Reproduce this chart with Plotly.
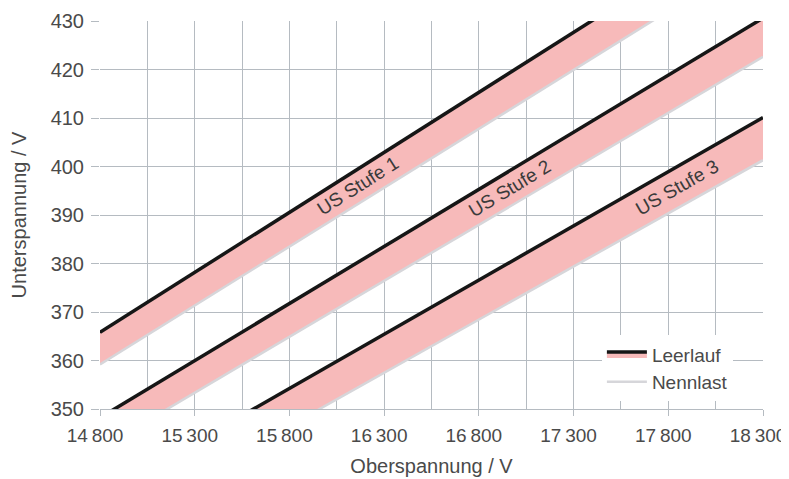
import plotly.graph_objects as go

# Data
ober_x = [14800, 18300]                      # Oberspannung / V (line endpoints)
stufen = ["US Stufe 1", "US Stufe 2", "US Stufe 3"]
leerlauf = {                                  # Unterspannung at 14800 / 18300 V
    "US Stufe 1": [365.8, 452.4],
    "US Stufe 2": [348.2, 430.6],
    "US Stufe 3": [331.9, 410.1],
}
nennlast = {
    "US Stufe 1": [359.2, 444.2],
    "US Stufe 2": [341.8, 422.6],
    "US Stufe 3": [324.6, 401.3],
}
# label positions (x value, y value) and angles
label_pos = {
    "US Stufe 1": (16164, 396.0, -32.4),
    "US Stufe 2": (16962, 395.4, -31.2),
    "US Stufe 3": (17845, 395.7, -29.9),
}
x_ticks = [14800, 15300, 15800, 16300, 16800, 17300, 17800, 18300]
x_ticktext = ["14\u2009800", "15\u2009300", "15\u2009800", "16\u2009300",
              "16\u2009800", "17\u2009300", "17\u2009800", "18\u2009300"]
y_ticks = [350, 360, 370, 380, 390, 400, 410, 420, 430]

FONT = "Liberation Sans, Arial, sans-serif"
TXT = "#4a4a4a"
PINK = "#f7baba"
GRID = "#b5bbc1"
FS = 20

fig = go.Figure()
for i, s in enumerate(stufen):
    fig.add_trace(go.Scatter(
        x=ober_x, y=nennlast[s], mode="lines",
        line=dict(color="#d6d6da", width=2.5),
        name="Nennlast", legendgroup="nenn", showlegend=(i == 0), legendrank=2,
        hoverinfo="skip"))
    fig.add_trace(go.Scatter(
        x=ober_x, y=leerlauf[s], mode="lines",
        line=dict(color="#161616", width=3.5),
        fill="tonexty", fillcolor=PINK,
        name="Leerlauf", legendgroup="leer", showlegend=(i == 0), legendrank=1,
        hoverinfo="skip"))

for s in stufen:
    lx, ly, ang = label_pos[s]
    fig.add_annotation(x=lx, y=ly, text=s, showarrow=False, textangle=ang,
                       font=dict(family=FONT, size=19, color="#3a3a3a"))

# page body has an 8px default margin, so the figure is slightly smaller
fig.update_layout(
    width=781, height=471,
    margin=dict(l=92, r=26, t=13, b=70),
    paper_bgcolor="white", plot_bgcolor="white",
    font=dict(family=FONT, size=FS, color=TXT),
    legend=dict(x=0.757, y=0.02, xanchor="left", yanchor="bottom",
                bgcolor="white", borderwidth=0,
                font=dict(family=FONT, size=19, color=TXT),
                tracegroupgap=0, itemwidth=40),
)
fig.update_xaxes(
    range=[14800, 18300], tickvals=x_ticks, ticktext=x_ticktext,
    automargin=False, ticklabeloverflow="allow", ticklabelshift=-5,
    ticklabelstandoff=3, tickfont=dict(family=FONT, size=19, color=TXT),
    showgrid=True, gridcolor=GRID, gridwidth=1,
    minor=dict(dtick=250, tick0=14800, showgrid=True, gridcolor=GRID, gridwidth=1),
    showline=True, linecolor=GRID, linewidth=1,
    ticks="outside", ticklen=6, tickcolor=GRID,
    zeroline=False,
    title=dict(text="Oberspannung / V", standoff=14,
               font=dict(family=FONT, size=FS, color=TXT)),
)
fig.update_yaxes(
    range=[350, 430], tickvals=y_ticks,
    automargin=False, ticklabeloverflow="allow",
    showgrid=True, gridcolor=GRID, gridwidth=1,
    showline=False,
    ticks="outside", ticklen=8, tickcolor=GRID, ticklabelstandoff=3,
    zeroline=False,
    title=dict(text="Unterspannung / V", standoff=23,
               font=dict(family=FONT, size=FS, color=TXT)),
)

fig.write_html("out.html")
